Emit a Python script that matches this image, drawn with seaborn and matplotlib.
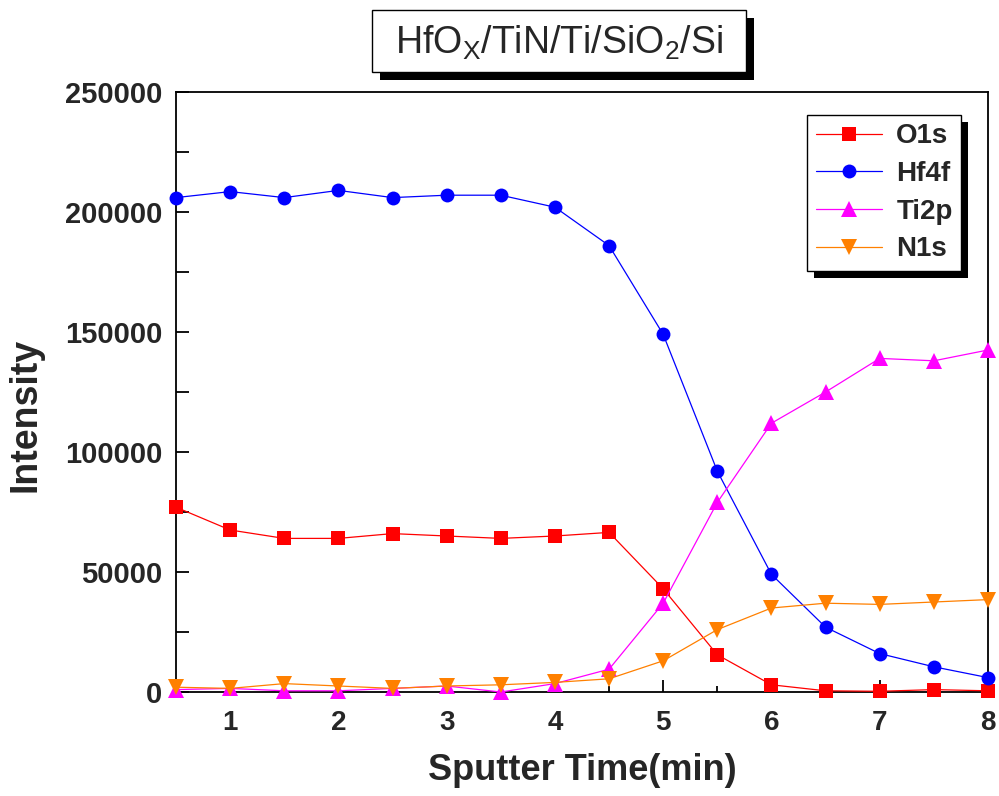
import numpy as np
import pandas as pd
import seaborn as sns
import matplotlib
matplotlib.use("Agg")
import matplotlib.pyplot as plt
from matplotlib.patches import Rectangle
from matplotlib.ticker import MultipleLocator

time_min = [0.5, 1.0, 1.5, 2.0, 2.5, 3.0, 3.5, 4.0, 4.5, 5.0, 5.5, 6.0, 6.5, 7.0, 7.5, 8.0]
o1s  = [77000, 67500, 64000, 64000, 66000, 65000, 64000, 65000, 66500, 43000, 15500, 3000, 500, 300, 1000, 500]
hf4f = [206000, 208500, 206000, 209000, 206000, 207000, 207000, 202000, 186000, 149000, 92000, 49000, 27000, 16000, 10500, 6000]
ti2p = [1000, 1500, 500, 500, 1500, 2500, 0, 3500, 9500, 37000, 79000, 112000, 125000, 139000, 138000, 142500]
n1s  = [2000, 1500, 3500, 2500, 1500, 2500, 3000, 4000, 5500, 13000, 26000, 35000, 37000, 36500, 37500, 38500]

series_names = ["O1s", "Hf4f", "Ti2p", "N1s"]
series_colors = ["#FF0000", "#0000FF", "#FF00FF", "#FF8000"]
series_markers = ["s", "o", "^", "v"]
x_label = "Sputter Time(min)"
y_label = "Intensity"
title_text = r"HfO$_\mathregular{X}$/TiN/Ti/SiO$_\mathregular{2}$/Si"

df = pd.DataFrame({
    "time": time_min * 4,
    "intensity": o1s + hf4f + ti2p + n1s,
    "series": sum([[n] * len(time_min) for n in series_names], []),
})

sns.set_theme(style="white")
plt.rcParams["font.family"] = ["Liberation Sans", "DejaVu Sans"]
plt.rcParams["mathtext.fontset"] = "custom"
plt.rcParams["mathtext.rm"] = "Liberation Sans"
plt.rcParams["mathtext.it"] = "Liberation Sans:italic"
plt.rcParams["mathtext.bf"] = "Liberation Sans:bold"

fig = plt.figure(figsize=(9.99, 7.96), dpi=100)
ax = fig.add_axes([176 / 999, 1 - 692 / 796, 812 / 999, 600 / 796])

msizes = {"s": 9.5, "o": 10, "^": 11, "v": 11}
for name, col, mk in zip(series_names, series_colors, series_markers):
    sub = df[df["series"] == name]
    sns.lineplot(data=sub, x="time", y="intensity", ax=ax, color=col, marker=mk,
                 markersize=msizes[mk], markeredgewidth=0, linewidth=0.9,
                 label=name, clip_on=False, zorder=3)

ax.set_xlim(0.5, 8)
ax.set_ylim(0, 250000)
ax.xaxis.set_major_locator(MultipleLocator(1))
ax.xaxis.set_minor_locator(MultipleLocator(0.5))
ax.yaxis.set_major_locator(MultipleLocator(50000))
ax.yaxis.set_minor_locator(MultipleLocator(25000))
ax.tick_params(axis="both", which="both", direction="in", top=False, right=False,
               bottom=True, left=True, width=1.3, color="black")
ax.tick_params(axis="x", which="major", length=9, labelsize=20, pad=13)
ax.tick_params(axis="x", which="minor", length=4)
ax.tick_params(axis="y", which="both", length=9)
ax.tick_params(axis="y", which="major", labelsize=21, pad=10)
for lab in ax.get_xticklabels() + ax.get_yticklabels():
    lab.set_fontweight("bold")
for sp in ax.spines.values():
    sp.set_visible(True)
    sp.set_color("black")
    sp.set_linewidth(1.3)

ax.set_xlabel(x_label, fontsize=26, fontweight="bold", labelpad=12)
ax.set_ylabel(y_label, fontsize=27, fontweight="bold")
ax.yaxis.set_label_coords((44 - 176) / 812, (692 - 415) / 600)

leg = ax.legend(loc="upper right", bbox_to_anchor=(961 / 999, 1 - 115 / 796),
                bbox_transform=fig.transFigure, frameon=True, fancybox=False,
                edgecolor="black", framealpha=1, fontsize=20, handlelength=2.4,
                borderpad=0.3, labelspacing=0.42, handletextpad=0.5, borderaxespad=0)
leg.get_frame().set_linewidth(1.0)
leg.set_zorder(10)
for t in leg.get_texts():
    t.set_fontweight("bold")

fig.canvas.draw()
bb = leg.get_window_extent().transformed(fig.transFigure.inverted())
ox, oy = 7 / 999, 7 / 796
ax.add_patch(Rectangle((bb.x0 + ox, bb.y0 - oy), bb.width, bb.height,
                       transform=fig.transFigure, facecolor="black",
                       edgecolor="none", zorder=9, clip_on=False))

# title box with shadow
tx0, tx1, ty0, ty1 = 372, 746, 10, 72
fig.patches.append(Rectangle(((tx0 + 8) / 999, 1 - (ty1 + 8) / 796), (tx1 - tx0) / 999,
                             (ty1 - ty0) / 796, transform=fig.transFigure,
                             facecolor="black", edgecolor="none", zorder=1))
fig.patches.append(Rectangle((tx0 / 999, 1 - ty1 / 796), (tx1 - tx0) / 999,
                             (ty1 - ty0) / 796, transform=fig.transFigure,
                             facecolor="white", edgecolor="black", linewidth=1.0, zorder=2))
fig.text((tx0 + tx1) / 2 / 999, 1 - 43 / 796, title_text, ha="center", va="center",
         fontsize=27, zorder=3)

fig.savefig("out.png", dpi=100)
